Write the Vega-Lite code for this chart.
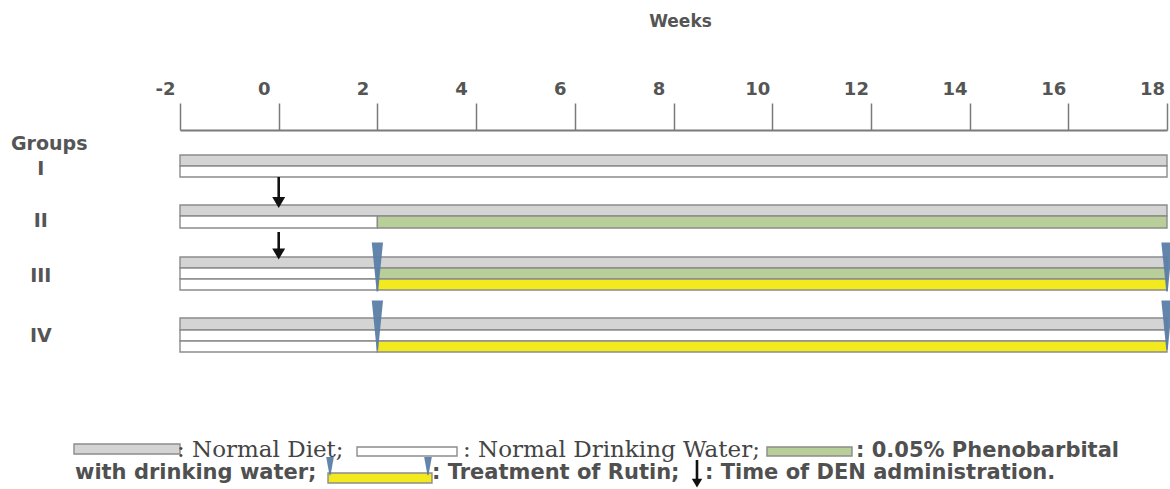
{
  "$schema": "https://vega.github.io/schema/vega-lite/v6.json",
  "autosize": "none",
  "width": 987,
  "height": 359,
  "padding": {"left": 180, "top": 130, "right": 3, "bottom": 0},
  "background": "white",
  "config": {"view": {"stroke": null}},
  "datasets": {
    "strips": [
      {"group": "I", "kind": "Normal Diet", "x": -2, "x2": 18, "y": 2.27, "y2": 3.27},
      {"group": "I", "kind": "Normal Drinking Water", "x": -2, "x2": 18, "y": 3.27, "y2": 4.27},
      {"group": "II", "kind": "Normal Diet", "x": -2, "x2": 18, "y": 6.82, "y2": 7.82},
      {"group": "II", "kind": "Normal Drinking Water", "x": -2, "x2": 2, "y": 7.82, "y2": 8.91},
      {"group": "II", "kind": "0.05% Phenobarbital", "x": 2, "x2": 18, "y": 7.82, "y2": 8.91},
      {"group": "III", "kind": "Normal Diet", "x": -2, "x2": 18, "y": 11.55, "y2": 12.55},
      {"group": "III", "kind": "Normal Drinking Water", "x": -2, "x2": 2, "y": 12.55, "y2": 13.55},
      {"group": "III", "kind": "0.05% Phenobarbital", "x": 2, "x2": 18, "y": 12.55, "y2": 13.55},
      {"group": "III", "kind": "Normal Drinking Water", "x": -2, "x2": 2, "y": 13.55, "y2": 14.55},
      {"group": "III", "kind": "Rutin", "x": 2, "x2": 18, "y": 13.55, "y2": 14.55},
      {"group": "IV", "kind": "Normal Diet", "x": -2, "x2": 18, "y": 17.09, "y2": 18.18},
      {"group": "IV", "kind": "Normal Drinking Water", "x": -2, "x2": 18, "y": 18.18, "y2": 19.18},
      {"group": "IV", "kind": "Normal Drinking Water", "x": -2, "x2": 2, "y": 19.18, "y2": 20.18},
      {"group": "IV", "kind": "Rutin", "x": 2, "x2": 18, "y": 19.18, "y2": 20.18},
      {"group": "legend", "kind": "Normal Diet", "x": -4.148, "x2": -2.0, "y": 28.55, "y2": 29.45},
      {"group": "legend", "kind": "Normal Drinking Water", "x": 1.587, "x2": 3.613, "y": 28.82, "y2": 29.64},
      {"group": "legend", "kind": "0.05% Phenobarbital", "x": 9.894, "x2": 11.617, "y": 28.82, "y2": 29.64},
      {"group": "legend", "kind": "Rutin", "x": 0.999, "x2": 3.106, "y": 31.18, "y2": 32.09}
    ],
    "shafts": [
      {"where": "II", "x": 0, "y": 4.27, "y2": 6.25},
      {"where": "III", "x": 0, "y": 9.27, "y2": 10.95},
      {"where": "legend", "x": 8.476, "y": 30.0, "y2": 31.8}
    ],
    "heads": [
      {"where": "II", "x": 0, "y": 6.59},
      {"where": "III", "x": 0, "y": 11.27}
    ],
    "legendHead": [
      {"where": "legend", "x": 8.476, "y": 32.1}
    ],
    "tris": [
      {"group": "III", "x": 2, "y": 12.45},
      {"group": "III", "x": 18, "y": 12.45},
      {"group": "IV", "x": 2, "y": 17.73},
      {"group": "IV", "x": 18, "y": 17.73}
    ],
    "legendTris": [
      {"x": 1.04, "y": 30.55},
      {"x": 3.025, "y": 30.55}
    ],
    "groupLabels": [
      {"label": "Groups", "x": -4.65, "y": 1.27},
      {"label": "I", "x": -4.82, "y": 3.55},
      {"label": "II", "x": -4.82, "y": 8.27},
      {"label": "III", "x": -4.82, "y": 13.27},
      {"label": "IV", "x": -4.82, "y": 18.73}
    ],
    "serifText": [
      {"label": ": Normal Diet;", "x": -2.061, "y": 29.73},
      {"label": ": Normal Drinking Water;", "x": 3.735, "y": 29.73}
    ],
    "sansText": [
      {"label": ": 0.05% Phenobarbital", "x": 11.698, "y": 29.73},
      {"label": "with drinking water;", "x": -4.128, "y": 31.73},
      {"label": ": Treatment of Rutin;", "x": 3.106, "y": 31.73},
      {"label": ": Time of DEN administration.", "x": 8.638, "y": 31.73}
    ]
  },
  "encoding": {
    "x": {
      "field": "x",
      "type": "quantitative",
      "scale": {"domain": [-2, 18], "nice": false, "zero": false},
      "axis": {
        "orient": "top",
        "title": "Weeks",
        "values": [-2, 0, 2, 4, 6, 8, 10, 12, 14, 16, 18],
        "labelExpr": "'' + datum.value",
        "grid": false,
        "domainColor": "#7a7a7a",
        "domainWidth": 2,
        "tickColor": "#7a7a7a",
        "tickWidth": 1.5,
        "tickSize": 27,
        "labelFont": "DejaVu Sans",
        "labelFontSize": 18,
        "labelFontWeight": "bold",
        "labelColor": "#555555",
        "labelPadding": 5,
        "labelOffset": -15,
        "labelFlush": false,
        "labelOverlap": false,
        "labelBound": false,
        "titleFont": "DejaVu Sans",
        "titleFontSize": 17,
        "titleFontWeight": "bold",
        "titleColor": "#555555",
        "titlePadding": 50,
        "titleX": 500
      }
    },
    "y": {
      "field": "y",
      "type": "quantitative",
      "scale": {"domain": [0, 32.636], "reverse": true, "nice": false, "zero": false},
      "axis": null
    }
  },
  "layer": [
    {
      "data": {"name": "strips"},
      "mark": {"type": "rect", "stroke": "#8c8c8c", "strokeWidth": 1.4},
      "encoding": {
        "x2": {"field": "x2"},
        "y2": {"field": "y2"},
        "fill": {
          "field": "kind",
          "type": "nominal",
          "scale": {
            "domain": ["Normal Diet", "Normal Drinking Water", "0.05% Phenobarbital", "Rutin"],
            "range": ["#d4d4d4", "#ffffff", "#b9cf9a", "#f2ea1e"]
          },
          "legend": null
        }
      }
    },
    {
      "data": {"name": "shafts"},
      "mark": {"type": "rule", "color": "#111111", "strokeWidth": 2.6},
      "encoding": {"y2": {"field": "y2"}}
    },
    {
      "data": {"name": "heads"},
      "mark": {"type": "point", "shape": "M-1,-0.85L1,-0.85L0,0.85Z", "filled": true, "color": "#111111", "opacity": 1, "size": 169}
    },
    {
      "data": {"name": "legendHead"},
      "mark": {"type": "point", "shape": "M-1,-0.85L1,-0.85L0,0.85Z", "filled": true, "color": "#111111", "opacity": 1, "size": 110}
    },
    {
      "data": {"name": "tris"},
      "mark": {"type": "point", "shape": "M-0.23,-1L0.23,-1L0.03,1L-0.03,1Z", "filled": true, "color": "#5b7ea8", "opacity": 0.95, "size": 2400}
    },
    {
      "data": {"name": "legendTris"},
      "mark": {"type": "point", "shape": "M-0.42,-1L0.42,-1L0.06,1L-0.06,1Z", "filled": true, "color": "#5b7ea8", "opacity": 0.95, "size": 330}
    },
    {
      "data": {"name": "groupLabels"},
      "mark": {"type": "text", "font": "DejaVu Sans", "fontSize": 19, "fontWeight": "bold", "color": "#555555", "align": "center", "baseline": "middle"},
      "encoding": {"text": {"field": "label"}}
    },
    {
      "data": {"name": "serifText"},
      "mark": {"type": "text", "font": "DejaVu Serif", "fontSize": 23, "color": "#444444", "align": "left", "baseline": "alphabetic"},
      "encoding": {"text": {"field": "label"}}
    },
    {
      "data": {"name": "sansText"},
      "mark": {"type": "text", "font": "DejaVu Sans", "fontSize": 21, "fontWeight": "bold", "color": "#505050", "align": "left", "baseline": "alphabetic"},
      "encoding": {"text": {"field": "label"}}
    }
  ]
}
